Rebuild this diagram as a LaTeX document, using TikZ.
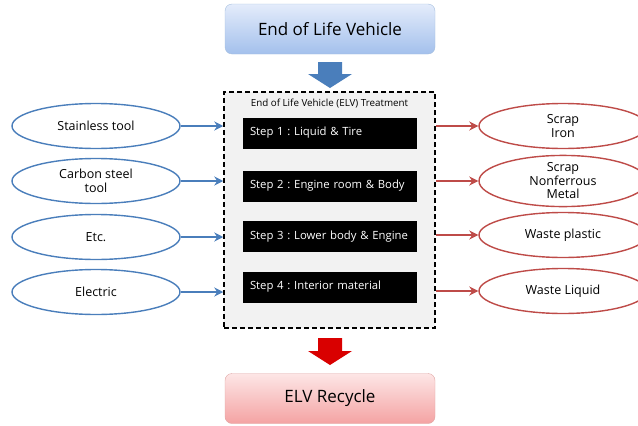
\documentclass[tikz,border=0pt]{standalone}
\usepackage{fontspec}
\setmainfont{Open Sans}
\frenchspacing
\usetikzlibrary{shapes.geometric,arrows.meta}
\definecolor{inblue}{HTML}{4A7EBB}
\definecolor{outred}{HTML}{BE4B48}
\definecolor{boxgray}{HTML}{F2F2F2}
\definecolor{elvtop}{HTML}{E4ECFB}
\definecolor{elvbot}{HTML}{A3C0EC}
\definecolor{rectop}{HTML}{FDE6E6}
\definecolor{recbot}{HTML}{F4A3A3}
\begin{document}
\begin{tikzpicture}[x=1pt, y=-1pt,
    inell/.style={ellipse, draw=inblue, line width=1.4pt, fill=white, minimum width=168pt, minimum height=45pt, inner sep=0pt, align=center, font=\fontsize{12.5}{13.5}\selectfont},
    outell/.style={ellipse, draw=outred, line width=1.4pt, fill=white, minimum width=168pt, minimum height=45pt, inner sep=0pt, align=center, font=\fontsize{12.5}{13.5}\selectfont},
    stepbox/.style={rectangle, fill=black, text=white, minimum width=174pt, minimum height=31pt, inner xsep=7pt, text width=160pt, align=left, font=\fontsize{11.3}{13}\selectfont},
    endbox/.style={rectangle, rounded corners=7pt, minimum width=210pt, minimum height=50pt, font=\fontsize{17}{20}\selectfont},
    inarrow/.style={-{Stealth[length=9pt,width=9pt]}, draw=inblue, line width=1.8pt},
    outarrow/.style={-{Stealth[length=9pt,width=9pt]}, draw=outred, line width=1.8pt}]
    \path[use as bounding box, clip] (0,0) rectangle (638,426);

    % top and bottom
    \node[endbox, draw=inblue!50, top color=elvtop, bottom color=elvbot] (elv) at (330,29) {End of Life Vehicle};
    \node[endbox, draw=outred!50, top color=rectop, bottom color=recbot] (recycle) at (330,398.5) {ELV Recycle};
    \fill[inblue] (318,62) -- (342,62) -- (342,74) -- (352,74) -- (330,88) -- (308,74) -- (318,74) -- cycle;
    \fill[red!85!black] (318,338) -- (342,338) -- (342,351) -- (352,351) -- (330,365) -- (308,351) -- (318,351) -- cycle;

    % treatment box
    \node[rectangle, draw=black, dash pattern=on 5pt off 3pt, line width=1.5pt, fill=boxgray, minimum width=211pt, minimum height=236pt] (treat) at (329.5,210) {};
    \node[font=\fontsize{9.8}{11}\selectfont] (title) at (329.5,104) {End of Life Vehicle (ELV) Treatment};
    \node[stepbox] (s1) at (330,133) {Step 1 : Liquid \& Tire};
    \node[stepbox] (s2) at (330,186) {Step 2 : Engine room \& Body};
    \node[stepbox] (s3) at (330,236.5) {Step 3 : Lower body \& Engine};
    \node[stepbox] (s4) at (330,287) {Step 4 : Interior material};

    % inputs
    \node[inell] (a) at (96,126) {Stainless tool};
    \node[inell] (b) at (96,181) {Carbon steel\\tool};
    \node[inell] (c) at (96,237) {Etc.};
    \node[inell] (d) at (96,292) {Electric};

    % outputs
    \node[outell] (e) at (563,126) {Scrap\\Iron};
    \node[outell] (f) at (563,181) {Scrap\\Nonferrous\\Metal};
    \node[outell] (g) at (563,235) {Waste plastic};
    \node[outell] (h) at (563,291) {Waste Liquid};

    \draw[inarrow] (a) -- (a -| treat.west);
    \draw[inarrow] (b) -- (b -| treat.west);
    \draw[inarrow] (c) -- (c -| treat.west);
    \draw[inarrow] (d) -- (d -| treat.west);
    \draw[outarrow] (e -| treat.east) -- (e);
    \draw[outarrow] (f -| treat.east) -- (f);
    \draw[outarrow] (g -| treat.east) -- (g);
    \draw[outarrow] (h -| treat.east) -- (h);
\end{tikzpicture}
\end{document}
